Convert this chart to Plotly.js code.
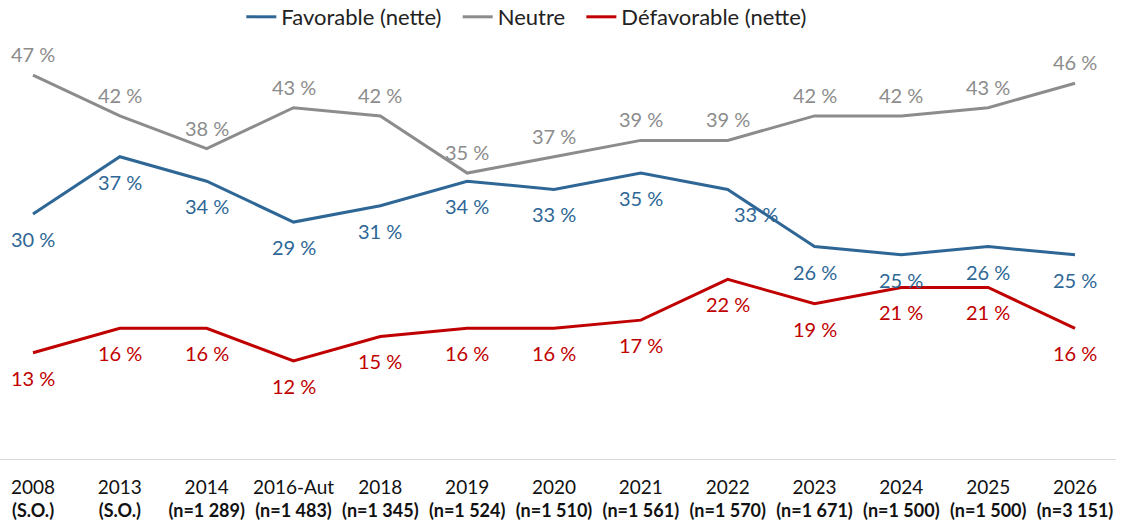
<!DOCTYPE html>
<html><head><meta charset="utf-8">
<script src="https://cdn.plot.ly/plotly-3.0.1.min.js"></script>
<style>html,body{margin:0;padding:0;background:#fff}#c{width:1126px;height:525px}</style>
</head><body><div id="c"></div>
<script>
const years = ["2008","2013","2014","2016-Aut","2018","2019","2020","2021","2022","2023","2024","2025","2026"];
const samples = ["(S.O.)","(S.O.)","(n=1 289)","(n=1 483)","(n=1 345)","(n=1 524)","(n=1 510)","(n=1 561)","(n=1 570)","(n=1 671)","(n=1 500)","(n=1 500)","(n=3 151)"];
const favorable = [30,37,34,29,31,34,33,35,33,26,25,26,25];
const neutre = [47,42,38,43,42,35,37,39,39,42,42,43,46];
const defavorable = [13,16,16,12,15,16,16,17,22,19,21,21,16];
const seriesNames = ["Favorable (nette)", "Neutre", "Défavorable (nette)"];

const cBlue = "#2E6796", cGray = "#8C8C8C", cRed = "#C00000";
const FONT = "Lato, 'Noto Sans', sans-serif";
const xi = years.map((_, i) => i);
const pad = "\u00a0\u00a0";

function tr(name, vals, color) {
  return {x: xi, y: vals, name: name + pad, type: "scatter", mode: "lines",
          line: {color: color, width: 3}, hoverinfo: "skip"};
}
const data = [tr(seriesNames[0], favorable, cBlue), tr(seriesNames[1], neutre, cGray), tr(seriesNames[2], defavorable, cRed)];

const ann = [];
function addLabels(vals, color, shift, special) {
  vals.forEach((v, i) => {
    const a = {x: i, y: v, text: v + " %", showarrow: false, xref: "x", yref: "y",
      font: {family: FONT, size: 20, color: color}, yshift: shift, xanchor: "center"};
    if (special && special[i] !== undefined) Object.assign(a, special[i]);
    ann.push(a);
  });
}
addLabels(neutre, cGray, 21);
addLabels(favorable, cBlue, -25, {8: {xshift: 28}});
addLabels(defavorable, cRed, -25);

const layout = {
  width: 1126, height: 525,
  margin: {l: 0, r: 10, t: 40, b: 66, autoexpand: false},
  paper_bgcolor: "#fff", plot_bgcolor: "#fff",
  showlegend: true,
  legend: {orientation: "h", x: 0.477, xanchor: "center", y: 1.105, yanchor: "top", yref: "paper",
           font: {family: FONT, size: 22, color: "#222"}, itemwidth: 30, traceorder: "normal"},
  xaxis: {range: [-0.38, 12.472], tickmode: "array", tickvals: xi,
          ticktext: years.map((y, i) => '<span style="font-size:19px">' + y + "</span><br><b>" + samples[i] + "</b>"),
          showgrid: false, zeroline: false, showline: false, ticks: "", ticklabelstandoff: 16,
          tickfont: {family: FONT, size: 18, color: "#111"}, fixedrange: true},
  yaxis: {range: [0, 51.29], showgrid: false, zeroline: true, zerolinecolor: "#D9D9D9", zerolinewidth: 1,
          showticklabels: false, ticks: "", showline: false, fixedrange: true},
  annotations: ann
};
Plotly.newPlot("c", data, layout, {displayModeBar: false, staticPlot: true});
</script></body></html>
